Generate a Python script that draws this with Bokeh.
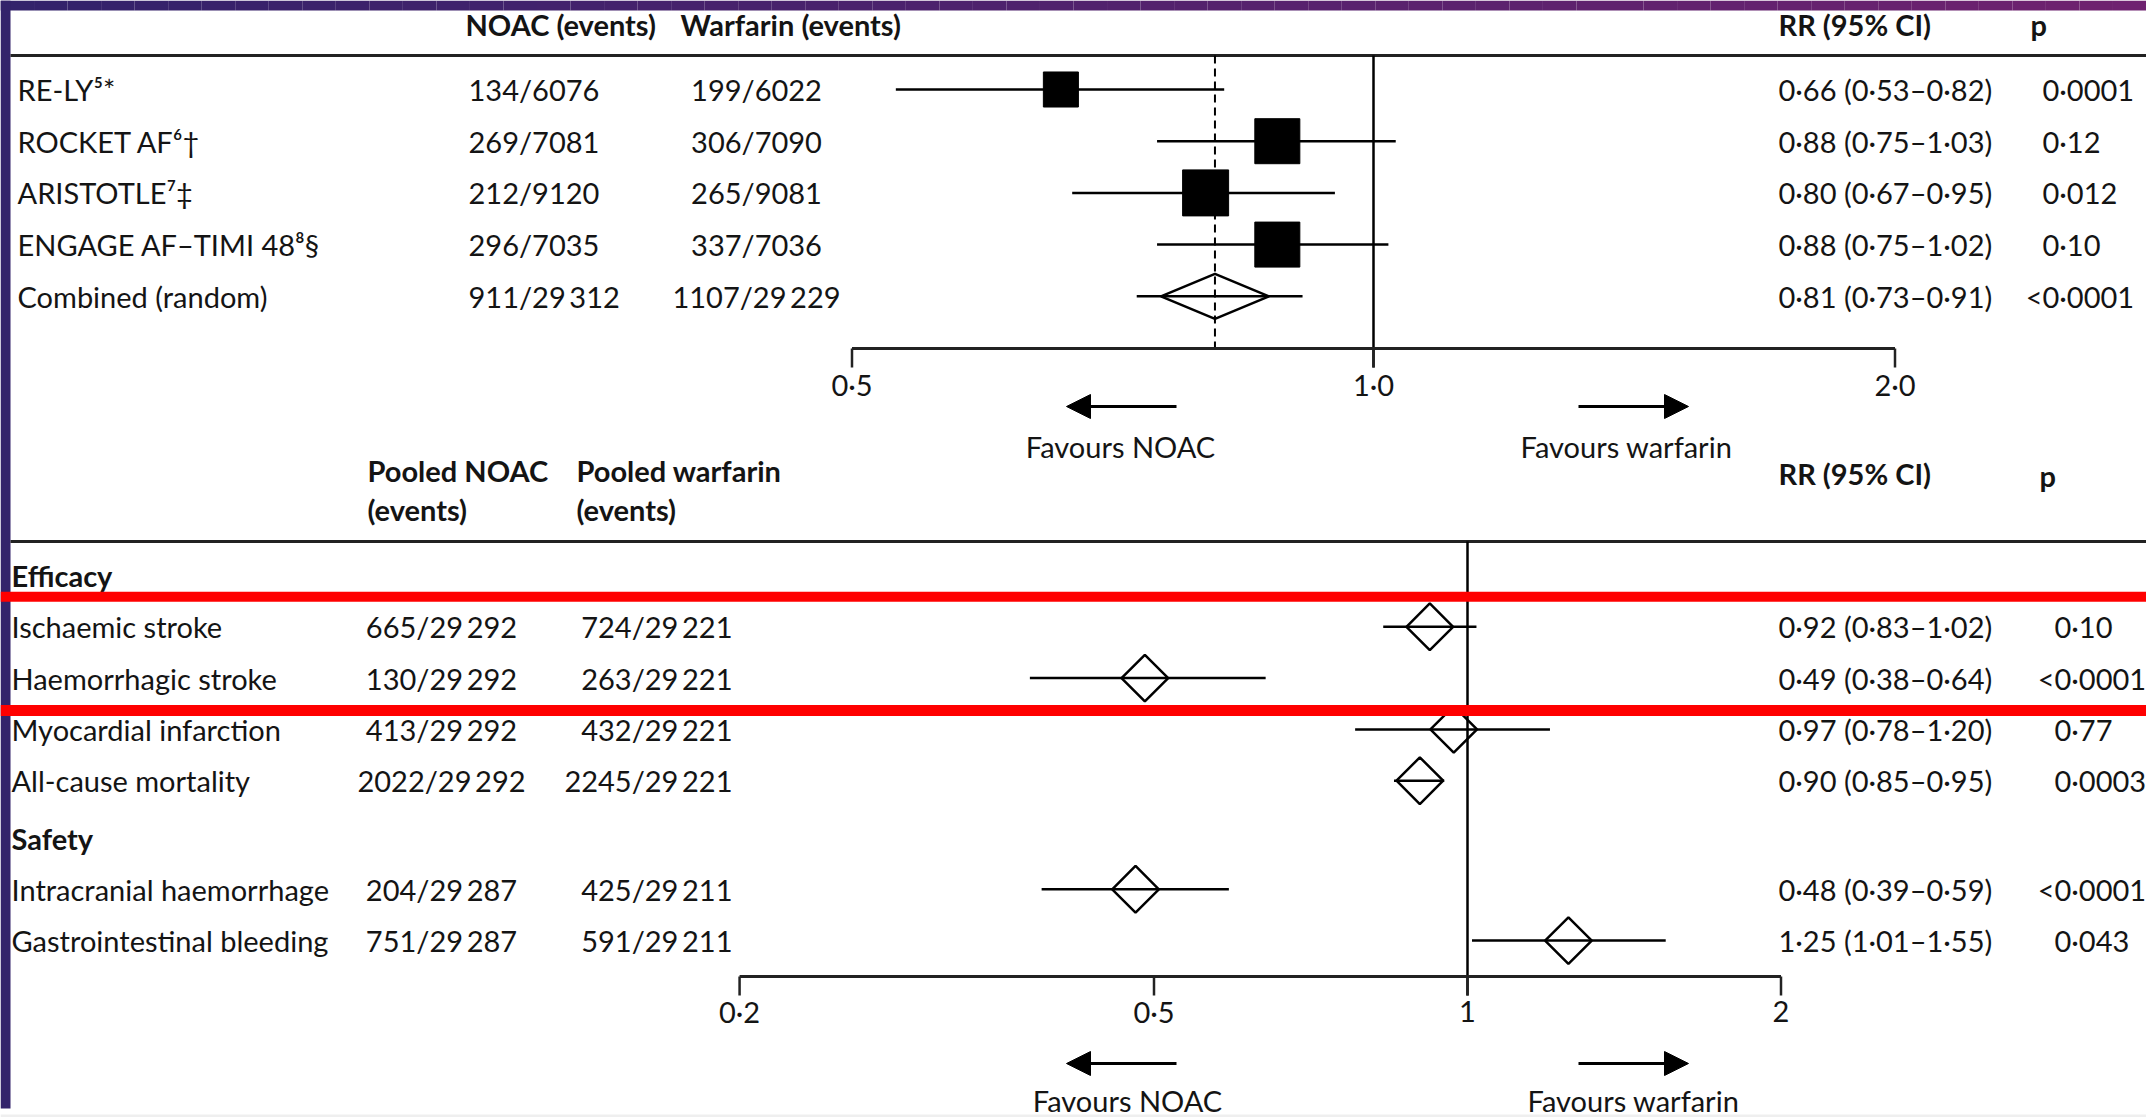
import math
from bokeh.plotting import figure
from bokeh.models import Range1d, LogScale, Arrow, NormalHead
from bokeh.core.properties import value
from bokeh.embed import file_html
from bokeh.resources import INLINE

# ---------------- data ----------------
top_headers = ["NOAC (events)", "Warfarin (events)", "RR (95% CI)", "p"]
trial_names = ["RE-LY\u2075*", "ROCKET AF\u2076\u2020", "ARISTOTLE\u2077\u2021", "ENGAGE AF\u2013TIMI 48\u2078\u00a7"]
trial_noac = ["134/6076", "269/7081", "212/9120", "296/7035"]
trial_warf = ["199/6022", "306/7090", "265/9081", "337/7036"]
trial_rr = [0.66, 0.88, 0.80, 0.88]
trial_lo = [0.53, 0.75, 0.67, 0.75]
trial_hi = [0.82, 1.03, 0.95, 1.02]
trial_weight = [16.6, 27.4, 28.6, 27.4]
trial_rr_text = ["0\u00b766 (0\u00b753\u20130\u00b782)", "0\u00b788 (0\u00b775\u20131\u00b703)",
                 "0\u00b780 (0\u00b767\u20130\u00b795)", "0\u00b788 (0\u00b775\u20131\u00b702)"]
trial_p = ["0\u00b70001", "0\u00b712", "0\u00b7012", "0\u00b710"]

combined_name = "Combined (random)"
combined_noac = "911/29\u2009312"
combined_warf = "1107/29\u2009229"
combined_rr = 0.81
combined_lo = 0.73
combined_hi = 0.91
combined_rr_text = "0\u00b781 (0\u00b773\u20130\u00b791)"
combined_p = "<0\u00b70001"

top_ticks = [0.5, 1.0, 2.0]
top_tick_labels = ["0\u00b75", "1\u00b70", "2\u00b70"]

bottom_headers_1 = ["Pooled NOAC", "Pooled warfarin", "RR (95% CI)", "p"]
bottom_headers_2 = ["(events)", "(events)"]
groups = ["Efficacy", "Safety"]
outcome_group = ["Efficacy", "Efficacy", "Efficacy", "Efficacy", "Safety", "Safety"]
outcomes = ["Ischaemic stroke", "Haemorrhagic stroke", "Myocardial infarction",
            "All-cause mortality", "Intracranial haemorrhage", "Gastrointestinal bleeding"]
out_noac = ["665/29\u2009292", "130/29\u2009292", "413/29\u2009292", "2022/29\u2009292",
            "204/29\u2009287", "751/29\u2009287"]
out_warf = ["724/29\u2009221", "263/29\u2009221", "432/29\u2009221", "2245/29\u2009221",
            "425/29\u2009211", "591/29\u2009211"]
out_rr = [0.92, 0.49, 0.97, 0.90, 0.48, 1.25]
out_lo = [0.83, 0.38, 0.78, 0.85, 0.39, 1.01]
out_hi = [1.02, 0.64, 1.20, 0.95, 0.59, 1.55]
out_rr_text = ["0\u00b792 (0\u00b783\u20131\u00b702)", "0\u00b749 (0\u00b738\u20130\u00b764)",
               "0\u00b797 (0\u00b778\u20131\u00b720)", "0\u00b790 (0\u00b785\u20130\u00b795)",
               "0\u00b748 (0\u00b739\u20130\u00b759)", "1\u00b725 (1\u00b701\u20131\u00b755)"]
out_p = ["0\u00b710", "<0\u00b70001", "0\u00b777", "0\u00b70003", "<0\u00b70001", "0\u00b7043"]
highlighted = ["Ischaemic stroke", "Haemorrhagic stroke"]

bottom_ticks = [0.2, 0.5, 1, 2]
bottom_tick_labels = ["0\u00b72", "0\u00b75", "1", "2"]
favours = ["Favours NOAC", "Favours warfarin"]

# ---------------- layout / style ----------------
W, H = 2146, 1117
X0, X1, Y0, Y1 = 0, W, 0, H
FONT = value("Lato")
FS = "29px"
TXT = "#141414"
LW = 2.5

TOP_ONE, TOP_OCT = 1373, 521.5
BOT_ONE, BOT_OCT = 1467, 313.5


def log_range(one_px, oct_px):
    return Range1d(2 ** ((X0 - one_px) / oct_px), 2 ** ((X1 - one_px) / oct_px))


p = figure(width=W, height=H, x_range=Range1d(X0, X1), y_range=Range1d(Y1, Y0),
           output_backend="svg", toolbar_location=None, min_border=0,
           x_axis_location=None, y_axis_location=None)
p.grid.visible = False
p.outline_line_color = None
p.background_fill_color = "white"
p.border_fill_color = "white"
p.extra_x_ranges = {"top": log_range(TOP_ONE, TOP_OCT), "bot": log_range(BOT_ONE, BOT_OCT)}
p.extra_x_scales = {"top": LogScale(), "bot": LogScale()}


def txt(x, y, text, align="left", bold=False, size=FS):
    if isinstance(text, str):
        text = [text]
        y = [y]
    p.text(x=x, y=y, text=text, text_font=FONT, text_font_size=size,
           text_align=align, text_baseline="middle", text_color=TXT,
           text_font_style="bold" if bold else "normal")


# purple frame of the screenshot
c0, c1 = (0x33, 0x23, 0x6b), (0x6f, 0x22, 0x70)
n = 64
qx = [X0 + (X1 - X0) * i / n for i in range(n + 1)]
cols = ["#%02x%02x%02x" % tuple(int(c0[k] + (c1[k] - c0[k]) * i / (n - 1)) for k in range(3)) for i in range(n)]
p.quad(left=qx[:-1], right=qx[1:], top=[Y0] * n, bottom=[10] * n, fill_color=cols, line_color=None)
p.quad(left=X0, right=10, top=Y0, bottom=1108, fill_color="#33236b", line_color=None)
p.quad(left=X0, right=X1, top=1114, bottom=Y1, fill_color="#efefef", line_color=None)

# ---------------- top panel ----------------
TOP_HDR_Y, TOP_LINE_Y = 24, 55
TOP_AXIS_Y = 348
top_row_y = [89 + 51.7 * i for i in range(len(trial_names) + 1)]
COL_LABEL, COL_NOAC, COL_WARF, COL_RR, COL_P = 17, 468, 756, 1778, 2042

txt(465, TOP_HDR_Y, top_headers[0], bold=True)
txt(680, TOP_HDR_Y, top_headers[1], bold=True)
txt(COL_RR, TOP_HDR_Y, top_headers[2], bold=True)
txt(2030, TOP_HDR_Y, top_headers[3], bold=True)
p.segment(x0=10, x1=X1, y0=TOP_LINE_Y, y1=TOP_LINE_Y, line_color="#222222", line_width=3)

names = trial_names + [combined_name]
noac = trial_noac + [combined_noac]
warf = trial_warf + [combined_warf]
rrt = trial_rr_text + [combined_rr_text]
pv = trial_p + [combined_p]
txt(COL_LABEL, top_row_y, names)
txt(COL_NOAC, top_row_y, noac)
txt(COL_WARF, top_row_y, warf, align="center")
txt(COL_RR, top_row_y, rrt)
txt(COL_P, top_row_y, [s.lstrip("<") for s in pv])
txt(COL_P, top_row_y, ["<" if s.startswith("<") else "" for s in pv], align="right")

# reference lines
p.segment(x0=1.0, x1=1.0, y0=TOP_LINE_Y, y1=TOP_AXIS_Y + 19, line_color="black", line_width=LW, x_range_name="top")
p.segment(x0=combined_rr, x1=combined_rr, y0=TOP_LINE_Y, y1=TOP_AXIS_Y, line_color="black",
          line_width=2, line_dash="8 5", x_range_name="top")
# CIs and boxes
ty = top_row_y[:len(trial_names)]
p.segment(x0=trial_lo, x1=trial_hi, y0=ty, y1=ty, line_color="black", line_width=LW, x_range_name="top")
p.scatter(x=trial_rr, y=ty, marker="square", size=[8.6 * math.sqrt(w) for w in trial_weight],
          fill_color="black", line_color="black", x_range_name="top")
cy = top_row_y[-1]
p.segment(x0=combined_lo, x1=combined_hi, y0=cy, y1=cy, line_color="black", line_width=LW, x_range_name="top")
hw = 0.1035
p.patch(x=[combined_rr * 2 ** -hw, combined_rr, combined_rr * 2 ** hw, combined_rr],
        y=[cy, cy - 22.5, cy, cy + 22.5], fill_color=None, line_color="black", line_width=LW,
        x_range_name="top")
# axis
p.segment(x0=top_ticks[0], x1=top_ticks[-1], y0=TOP_AXIS_Y, y1=TOP_AXIS_Y, line_color="#222222",
          line_width=3, x_range_name="top")
p.segment(x0=top_ticks, x1=top_ticks, y0=TOP_AXIS_Y, y1=TOP_AXIS_Y + 19, line_color="#222222",
          line_width=LW, x_range_name="top")
p.text(x=top_ticks, y=384, text=top_tick_labels, text_font=FONT, text_font_size=FS, text_align="center",
       text_baseline="middle", text_color=TXT, x_range_name="top")


def arrows(y_arrow, y_text, cx_left, cx_right):
    p.add_layout(Arrow(end=NormalHead(size=24, fill_color="black", line_color="black"),
                       x_start=1176, y_start=y_arrow, x_end=1066, y_end=y_arrow,
                       line_width=3, line_color="black"))
    p.add_layout(Arrow(end=NormalHead(size=24, fill_color="black", line_color="black"),
                       x_start=1578, y_start=y_arrow, x_end=1688, y_end=y_arrow,
                       line_width=3, line_color="black"))
    txt([cx_left, cx_right], [y_text, y_text], favours, align="center")


arrows(406, 446, 1120, 1626)

# ---------------- bottom panel ----------------
BOT_LINE_Y = 541
BOT_AXIS_Y = 976
BCOL_LABEL, BCOL_NOAC, BCOL_WARF, BCOL_P = 11, 441, 732, 2054
txt(367, 470, bottom_headers_1[0], bold=True)
txt(576, 470, bottom_headers_1[1], bold=True)
txt(367, 509, bottom_headers_2[0], bold=True)
txt(576, 509, bottom_headers_2[1], bold=True)
txt(COL_RR, 473, bottom_headers_1[2], bold=True)
txt(2039, 475, bottom_headers_1[3], bold=True)
p.segment(x0=10, x1=X1, y0=BOT_LINE_Y, y1=BOT_LINE_Y, line_color="#222222", line_width=3)

# row positions
ROW_H = 51.3
y = 575.0
group_y, row_y = [], []
for gi, g in enumerate(groups):
    if gi > 0:
        y += 6
    group_y.append(y)
    y += ROW_H
    for o, og in zip(outcomes, outcome_group):
        if og == g:
            row_y.append(y)
            y += ROW_H

txt(BCOL_LABEL, group_y, groups, bold=True)
txt(BCOL_LABEL, row_y, outcomes)
txt(BCOL_NOAC, row_y, out_noac, align="center")
txt(BCOL_WARF, row_y, out_warf, align="right")
txt(COL_RR, row_y, out_rr_text)
txt(BCOL_P, row_y, [s.lstrip("<") for s in out_p])
txt(BCOL_P, row_y, ["<" if s.startswith("<") else "" for s in out_p], align="right")

p.segment(x0=1, x1=1, y0=BOT_LINE_Y, y1=BOT_AXIS_Y + 19, line_color="black", line_width=LW, x_range_name="bot")
p.segment(x0=out_lo, x1=out_hi, y0=row_y, y1=row_y, line_color="black", line_width=LW, x_range_name="bot")
p.scatter(x=out_rr, y=row_y, marker="square", angle=math.pi / 4, size=33, fill_color=None,
          line_color="black", line_width=LW, x_range_name="bot")
p.segment(x0=bottom_ticks[0], x1=bottom_ticks[-1], y0=BOT_AXIS_Y, y1=BOT_AXIS_Y, line_color="#222222",
          line_width=3, x_range_name="bot")
p.segment(x0=bottom_ticks, x1=bottom_ticks, y0=BOT_AXIS_Y, y1=BOT_AXIS_Y + 19, line_color="#222222",
          line_width=LW, x_range_name="bot")
p.text(x=bottom_ticks, y=1011, text=bottom_tick_labels, text_font=FONT, text_font_size=FS,
       text_align="center", text_baseline="middle", text_color=TXT, x_range_name="bot")

arrows(1063, 1100, 1127, 1633)

# red highlight bars around highlighted rows
hi_rows = [row_y[outcomes.index(h)] for h in highlighted]
p.quad(left=X0, right=X1, top=[min(hi_rows) - 35, max(hi_rows) + 27],
       bottom=[min(hi_rows) - 25, max(hi_rows) + 38], fill_color="#ff0000", line_color=None)

open("out.html", "w").write(file_html(p, INLINE))
